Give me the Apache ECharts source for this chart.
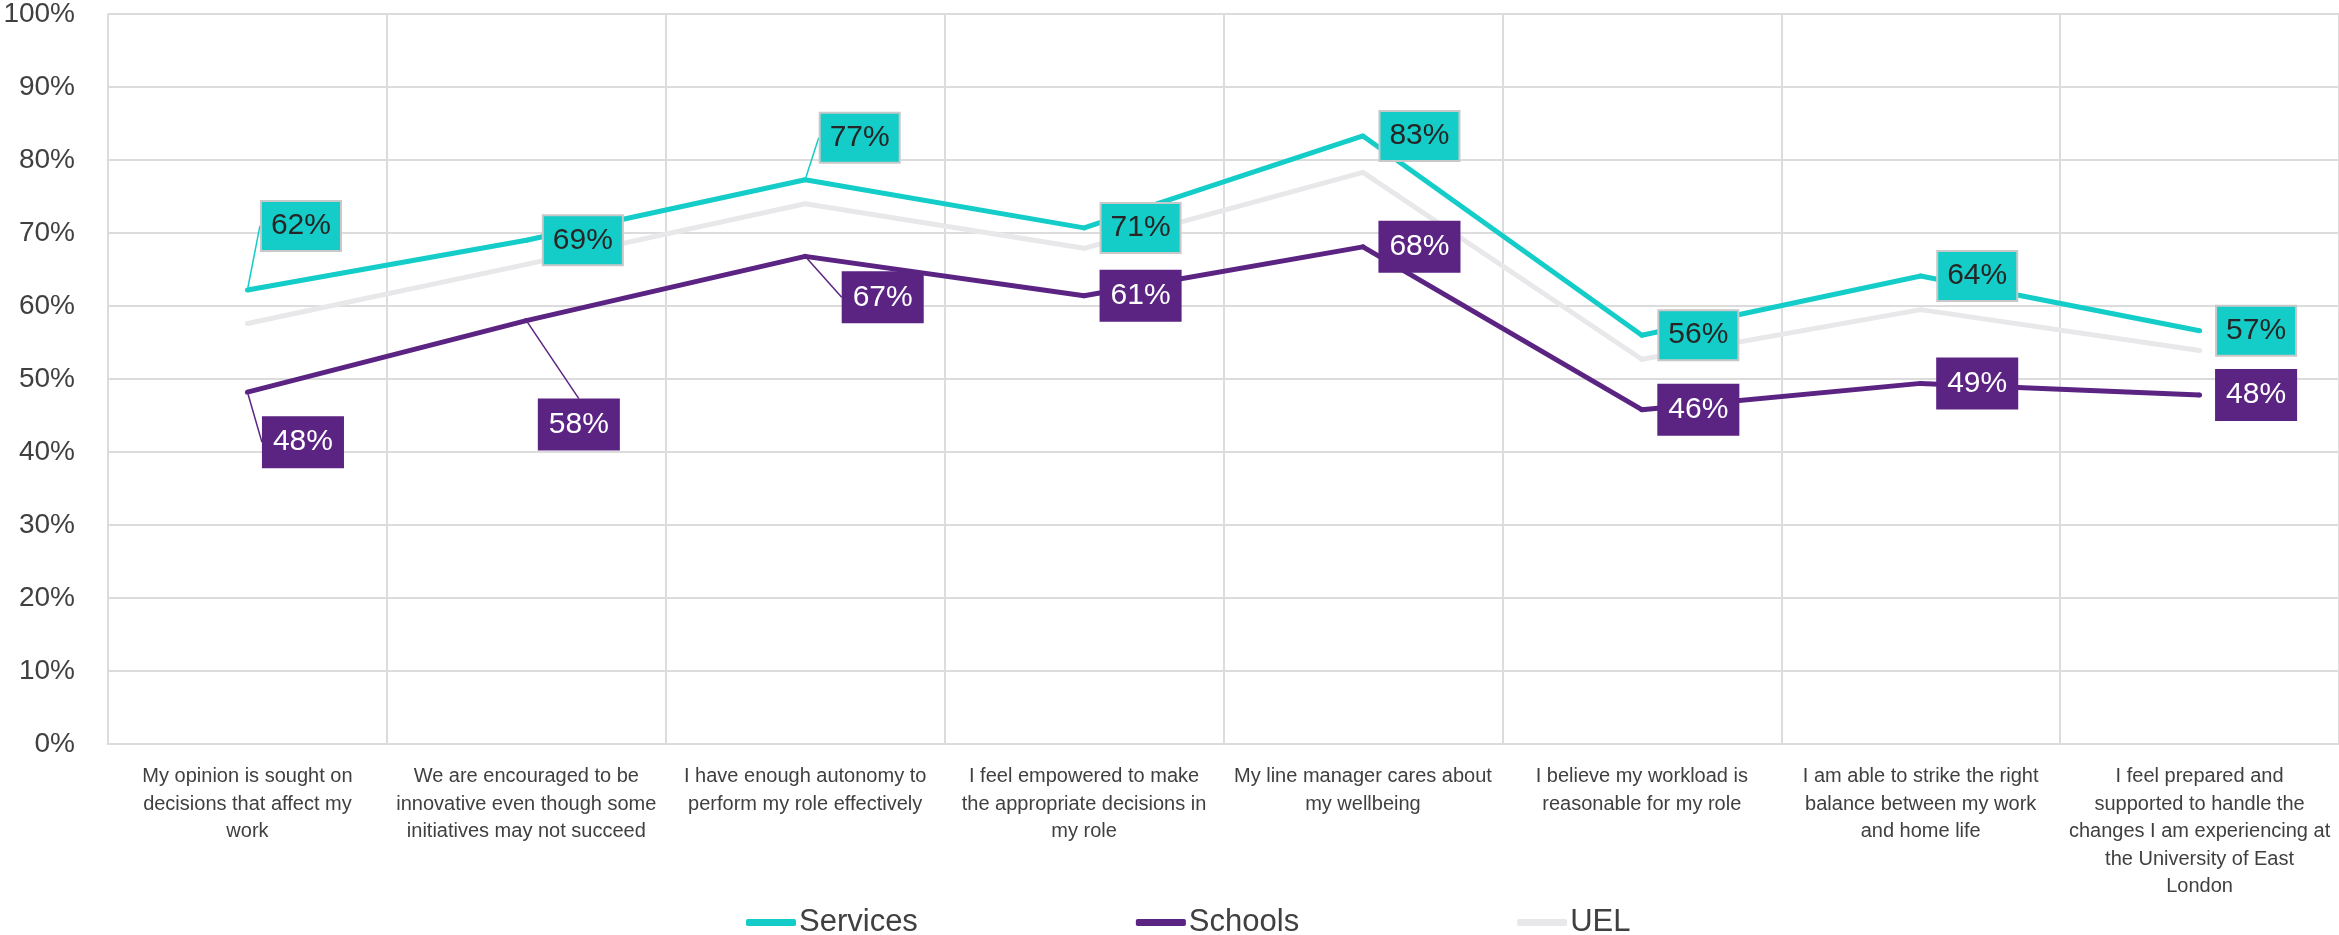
<!DOCTYPE html>
<html>
<head>
<meta charset="utf-8">
<script src="https://cdn.jsdelivr.net/npm/echarts@6/dist/echarts.min.js"></script>
<style>
html,body{margin:0;padding:0;background:#fff;}
#chart{width:2339px;height:935px;}
</style>
</head>
<body>
<div id="chart"></div>
<script>
const categories = [
  "My opinion is sought on\ndecisions that affect my\nwork",
  "We are encouraged to be\ninnovative even though some\ninitiatives may not succeed",
  "I have enough autonomy to\nperform my role effectively",
  "I feel empowered to make\nthe appropriate decisions in\nmy role",
  "My line manager cares about\nmy wellbeing",
  "I believe my workload is\nreasonable for my role",
  "I am able to strike the right\nbalance between my work\nand home life",
  "I feel prepared and\nsupported to handle the\nchanges I am experiencing at\nthe University of East\nLondon"
];
const services = [62.2, 69.0, 77.3, 70.7, 83.3, 56.0, 64.1, 56.6];
const schools  = [48.2, 58.0, 66.8, 61.4, 68.1, 45.8, 49.4, 47.8];
const uel      = [57.6, 65.7, 74.0, 67.9, 78.3, 52.7, 59.5, 53.9];
const yTicks = [0, 100, 10];

// label displacement (px) for labels moved away from the default right-side position
const servicesShift = [[-3,-64], null, [-2,-42], null, null, null, null, null];
const schoolsShift  = [[-1,50], [-4,104], [21,41], null, null, null, null, null];

const TEAL = '#14CDC8', PURPLE = '#5B2483', GREY = '#E8E8EA';
const FONT = '"Liberation Sans", Arial, sans-serif';

function mkData(vals, shifts){
  return vals.map((v,i)=>({value:v, labelLine:{show: !!shifts[i]}}));
}
function mkLayout(shifts){
  return function(p){
    const s = shifts[p.dataIndex];
    return s ? {dx:s[0], dy:s[1]} : {};
  };
}
function lbl(bg, color, border){
  return {
    show:true, position:'right', distance:15,
    formatter: p => Math.round(p.value) + '%',
    fontFamily: FONT, fontSize:30, lineHeight:30, color: color,
    backgroundColor: bg, borderColor: border, borderWidth: 2,
    padding:[9,9,9,9]
  };
}

const chart = echarts.init(document.getElementById('chart'), null, {renderer:'canvas'});
chart.setOption({
  animation:false,
  grid:{left:108, right:0, top:14, bottom:191, containLabel:false},
  legend:{
    data:['Services','Schools','UEL'],
    left:741, top:902, icon:'roundRect', itemWidth:50, itemHeight:7, itemGap:218,
    textStyle:{fontFamily:FONT, fontSize:31, color:'#404040', padding:[0,0,0,-2]}
  },
  xAxis:{
    type:'category', data:categories, boundaryGap:true,
    axisLine:{show:true, lineStyle:{color:'#DCDCDC', width:2}},
    axisTick:{show:false},
    splitLine:{show:true, lineStyle:{color:'#DCDCDC', width:2}},
    axisLabel:{interval:0, margin:19, fontFamily:FONT, fontSize:20, lineHeight:27.5, color:'#404040', align:'center', verticalAlign:'top'}
  },
  yAxis:{
    type:'value', min:yTicks[0], max:yTicks[1], interval:yTicks[2],
    axisLine:{show:true, lineStyle:{color:'#DCDCDC', width:2}},
    axisTick:{show:false},
    splitLine:{show:true, lineStyle:{color:'#DCDCDC', width:2}},
    axisLabel:{formatter:'{value}%', margin:33, fontFamily:FONT, fontSize:28, color:'#404040'}
  },
  series:[
    {name:'UEL', type:'line', data:uel, z:1, symbol:'circle', symbolSize:5,
      itemStyle:{color:GREY}, lineStyle:{color:GREY, width:5}, label:{show:false}},
    {name:'Schools', type:'line', data:mkData(schools, schoolsShift), z:2, symbol:'circle', symbolSize:5,
      itemStyle:{color:PURPLE}, lineStyle:{color:PURPLE, width:5},
      label:lbl(PURPLE,'#FFFFFF',PURPLE),
      labelLine:{show:false, lineStyle:{color:PURPLE, width:1.5}},
      labelLayout: mkLayout(schoolsShift)},
    {name:'Services', type:'line', data:mkData(services, servicesShift), z:3, symbol:'circle', symbolSize:5,
      itemStyle:{color:TEAL}, lineStyle:{color:TEAL, width:5},
      label:lbl(TEAL,'#262626','#C8C8C8'),
      labelLine:{show:false, lineStyle:{color:TEAL, width:1.5}},
      labelLayout: mkLayout(servicesShift)}
  ]
});
</script>
</body>
</html>
